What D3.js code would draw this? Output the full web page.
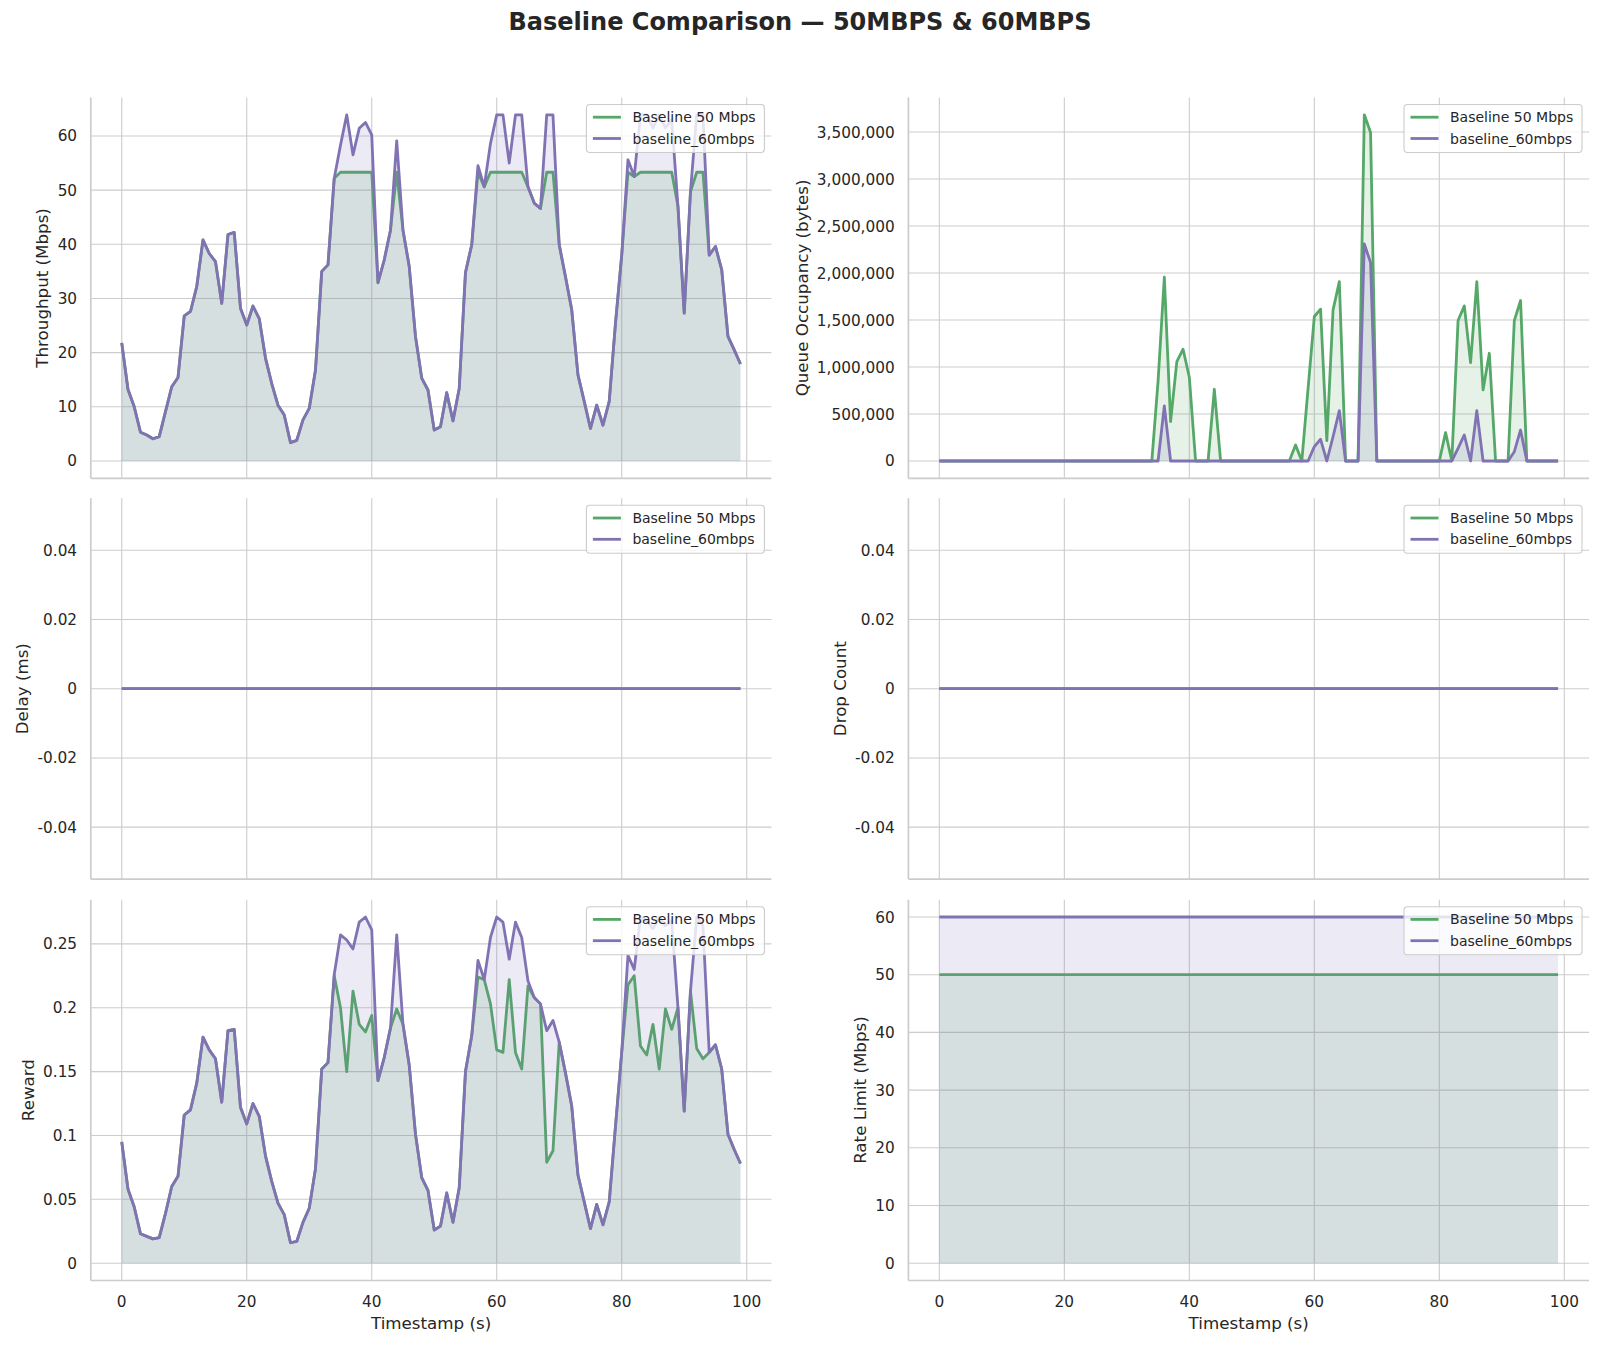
<!DOCTYPE html>
<html><head><meta charset="utf-8">
<script src="https://cdn.jsdelivr.net/npm/d3@7"></script>
<style>
body{margin:0;background:#fff}
svg{display:block}
text{font-family:"DejaVu Sans",sans-serif;fill:#262626}
</style>
</head><body>
<svg id="chart" width="1600" height="1345"></svg>
<script>
// ---------------- DATA ----------------
const timestamps = [0,1,2,3,4,5,6,7,8,9,10,11,12,13,14,15,16,17,18,19,20,21,22,23,24,25,26,27,28,29,
30,31,32,33,34,35,36,37,38,39,40,41,42,43,44,45,46,47,48,49,50,51,52,53,54,55,56,57,58,59,
60,61,62,63,64,65,66,67,68,69,70,71,72,73,74,75,76,77,78,79,80,81,82,83,84,85,86,87,88,89,
90,91,92,93,94,95,96,97,98,99];

const seriesNames = ["Baseline 50 Mbps", "baseline_60mbps"];
const seriesColors = ["#55a868", "#8172b3"];

const throughput50 = [
21.8,13.2,10.0,5.3,4.8,4.1,4.5,9.1,13.7,15.4,
26.8,27.6,32.2,40.8,38.3,36.8,29.1,41.8,42.2,28.2,
25.1,28.6,26.3,19.0,14.3,10.3,8.5,3.4,3.8,7.6,
9.7,16.8,35.0,36.2,52.2,53.3,53.3,53.3,53.3,53.3,
53.3,32.9,37.1,42.6,53.3,42.6,35.9,23.0,15.3,13.1,
5.7,6.3,12.6,7.4,13.4,34.8,39.9,53.3,50.6,53.3,
53.3,53.3,53.3,53.3,53.3,50.6,47.6,46.6,53.3,53.3,
39.9,34.0,27.9,15.9,11.0,6.0,10.3,6.6,11.0,25.4,
38.0,53.3,52.5,53.3,53.3,53.3,53.3,53.3,53.3,47.0,
27.3,49.7,53.3,53.3,38.0,39.6,35.3,23.0,20.5,17.9];
const throughput60 = [
21.8,13.2,10.0,5.3,4.8,4.1,4.5,9.1,13.7,15.4,
26.8,27.6,32.2,40.8,38.3,36.8,29.1,41.8,42.2,28.2,
25.1,28.6,26.3,19.0,14.3,10.3,8.5,3.4,3.8,7.6,
9.7,16.8,35.0,36.2,52.2,58.3,63.9,56.5,61.4,62.5,
60.2,32.9,37.1,42.6,59.1,42.6,35.9,23.0,15.3,13.1,
5.7,6.3,12.6,7.4,13.4,34.8,39.9,54.5,50.6,58.6,
63.9,63.9,55.0,63.9,63.9,50.6,47.6,46.6,63.9,63.9,
39.9,34.0,27.9,15.9,11.0,6.0,10.3,6.6,11.0,25.4,
38.0,55.6,52.5,63.9,63.9,61.5,63.9,61.5,63.0,47.0,
27.3,49.7,63.9,63.9,38.0,39.6,35.3,23.0,20.5,17.9];

const queue50 = [
0,0,0,0,0,0,0,0,0,0,
0,0,0,0,0,0,0,0,0,0,
0,0,0,0,0,0,0,0,0,0,
0,0,0,0,0,850000,1955000,420000,1057000,1189000,
891000,0,0,0,763000,0,0,0,0,0,
0,0,0,0,0,0,0,170000,0,770000,
1537000,1615000,216000,1608000,1909000,0,0,0,3683000,3495000,
0,0,0,0,0,0,0,0,0,0,
0,302000,0,1494000,1650000,1047000,1909000,756000,1146000,0,
0,0,1494000,1707000,0,0,0,0,0,0];
const queue60 = [
0,0,0,0,0,0,0,0,0,0,
0,0,0,0,0,0,0,0,0,0,
0,0,0,0,0,0,0,0,0,0,
0,0,0,0,0,0,585000,0,0,0,
0,0,0,0,0,0,0,0,0,0,
0,0,0,0,0,0,0,0,0,0,
153000,231000,0,260000,536000,0,0,0,2310000,2110000,
0,0,0,0,0,0,0,0,0,0,
0,0,0,135000,277000,0,536000,0,0,0,
0,0,99000,330000,0,0,0,0,0,0];

const delay50 = [
0,0,0,0,0,0,0,0,0,0, 0,0,0,0,0,0,0,0,0,0, 0,0,0,0,0,0,0,0,0,0, 0,0,0,0,0,0,0,0,0,0, 0,0,0,0,0,0,0,0,0,0,
0,0,0,0,0,0,0,0,0,0, 0,0,0,0,0,0,0,0,0,0, 0,0,0,0,0,0,0,0,0,0, 0,0,0,0,0,0,0,0,0,0, 0,0,0,0,0,0,0,0,0,0];
const delay60 = [
0,0,0,0,0,0,0,0,0,0, 0,0,0,0,0,0,0,0,0,0, 0,0,0,0,0,0,0,0,0,0, 0,0,0,0,0,0,0,0,0,0, 0,0,0,0,0,0,0,0,0,0,
0,0,0,0,0,0,0,0,0,0, 0,0,0,0,0,0,0,0,0,0, 0,0,0,0,0,0,0,0,0,0, 0,0,0,0,0,0,0,0,0,0, 0,0,0,0,0,0,0,0,0,0];
const drops50 = [
0,0,0,0,0,0,0,0,0,0, 0,0,0,0,0,0,0,0,0,0, 0,0,0,0,0,0,0,0,0,0, 0,0,0,0,0,0,0,0,0,0, 0,0,0,0,0,0,0,0,0,0,
0,0,0,0,0,0,0,0,0,0, 0,0,0,0,0,0,0,0,0,0, 0,0,0,0,0,0,0,0,0,0, 0,0,0,0,0,0,0,0,0,0, 0,0,0,0,0,0,0,0,0,0];
const drops60 = [
0,0,0,0,0,0,0,0,0,0, 0,0,0,0,0,0,0,0,0,0, 0,0,0,0,0,0,0,0,0,0, 0,0,0,0,0,0,0,0,0,0, 0,0,0,0,0,0,0,0,0,0,
0,0,0,0,0,0,0,0,0,0, 0,0,0,0,0,0,0,0,0,0, 0,0,0,0,0,0,0,0,0,0, 0,0,0,0,0,0,0,0,0,0, 0,0,0,0,0,0,0,0,0,0];

const reward50 = [
0.095,0.058,0.044,0.023,0.021,0.019,0.020,0.039,0.060,0.068,
0.116,0.120,0.141,0.177,0.167,0.160,0.126,0.182,0.183,0.122,
0.109,0.125,0.115,0.084,0.064,0.047,0.038,0.016,0.017,0.032,
0.043,0.074,0.152,0.157,0.225,0.200,0.150,0.213,0.187,0.181,
0.194,0.143,0.161,0.184,0.199,0.187,0.155,0.101,0.067,0.057,
0.026,0.029,0.055,0.032,0.059,0.150,0.178,0.224,0.222,0.203,
0.167,0.165,0.222,0.165,0.152,0.217,0.208,0.203,0.079,0.088,
0.173,0.149,0.123,0.069,0.048,0.027,0.046,0.030,0.048,0.107,
0.165,0.218,0.225,0.170,0.163,0.187,0.152,0.199,0.183,0.200,
0.119,0.213,0.168,0.160,0.165,0.171,0.152,0.101,0.089,0.078];
const reward60 = [
0.095,0.058,0.044,0.023,0.021,0.019,0.020,0.039,0.060,0.068,
0.116,0.120,0.141,0.177,0.167,0.160,0.126,0.182,0.183,0.122,
0.109,0.125,0.115,0.084,0.064,0.047,0.038,0.016,0.017,0.032,
0.043,0.074,0.152,0.157,0.226,0.257,0.253,0.246,0.267,0.271,
0.261,0.143,0.161,0.184,0.257,0.187,0.155,0.101,0.067,0.057,
0.026,0.029,0.055,0.032,0.059,0.150,0.178,0.237,0.222,0.255,
0.271,0.267,0.238,0.267,0.255,0.221,0.208,0.203,0.182,0.190,
0.173,0.149,0.123,0.069,0.048,0.027,0.046,0.030,0.048,0.107,
0.165,0.241,0.230,0.271,0.268,0.262,0.271,0.264,0.268,0.200,
0.119,0.213,0.271,0.264,0.165,0.171,0.152,0.101,0.089,0.078];

const rate50 = [
50,50,50,50,50,50,50,50,50,50, 50,50,50,50,50,50,50,50,50,50, 50,50,50,50,50,50,50,50,50,50, 50,50,50,50,50,50,50,50,50,50, 50,50,50,50,50,50,50,50,50,50,
50,50,50,50,50,50,50,50,50,50, 50,50,50,50,50,50,50,50,50,50, 50,50,50,50,50,50,50,50,50,50, 50,50,50,50,50,50,50,50,50,50, 50,50,50,50,50,50,50,50,50,50];
const rate60 = [
60,60,60,60,60,60,60,60,60,60, 60,60,60,60,60,60,60,60,60,60, 60,60,60,60,60,60,60,60,60,60, 60,60,60,60,60,60,60,60,60,60, 60,60,60,60,60,60,60,60,60,60,
60,60,60,60,60,60,60,60,60,60, 60,60,60,60,60,60,60,60,60,60, 60,60,60,60,60,60,60,60,60,60, 60,60,60,60,60,60,60,60,60,60, 60,60,60,60,60,60,60,60,60,60];

const xTicks = [0,20,40,60,80,100];
const throughputTicks = [0,10,20,30,40,50,60];
const queueTicks = [0,500000,1000000,1500000,2000000,2500000,3000000,3500000];
const delayTicks = [-0.04,-0.02,0,0.02,0.04];
const delayTickLabels = ["-0.04","-0.02","0","0.02","0.04"];
const rewardTicks = [0,0.05,0.1,0.15,0.2,0.25];
const rewardTickLabels = ["0","0.05","0.1","0.15","0.2","0.25"];
const rateTicks = [0,10,20,30,40,50,60];

const titleText = "Baseline Comparison \u2014 50MBPS & 60MBPS";
const xLabelText = "Timestamp (s)";

// ---------------- PANELS ----------------
const panels = [
  {row:0,col:0,label:"Throughput (Mbps)",series:[throughput50,throughput60],ticks:throughputTicks,tickLabels:throughputTicks.map(String),fill:true},
  {row:0,col:1,label:"Queue Occupancy (bytes)",series:[queue50,queue60],ticks:queueTicks,tickLabels:queueTicks.map(d3.format(",")),fill:true},
  {row:1,col:0,label:"Delay (ms)",series:[delay50,delay60],ticks:delayTicks,tickLabels:delayTickLabels,fill:true,fixed:[-0.055,0.055]},
  {row:1,col:1,label:"Drop Count",series:[drops50,drops60],ticks:delayTicks,tickLabels:delayTickLabels,fill:true,fixed:[-0.055,0.055]},
  {row:2,col:0,label:"Reward",series:[reward50,reward60],ticks:rewardTicks,tickLabels:rewardTickLabels,fill:true},
  {row:2,col:1,label:"Rate Limit (Mbps)",series:[rate50,rate60],ticks:rateTicks,tickLabels:rateTicks.map(String),fill:true}
];

const colX = [[90.8,771.4],[908.4,1589]];
const rowY = [[97.5,478.3],[498.3,879.1],[899.7,1280.5]];

const svg = d3.select("#chart");
svg.append("rect").attr("width",1600).attr("height",1345).attr("fill","#fff");

svg.append("text").attr("x",800).attr("y",30).attr("text-anchor","middle")
  .style("font-size","24px").style("font-weight","bold").text(titleText);

const GRID = "#cccccc";
const tickFont = 15.3, labelFont = 16.7, legendFont = 14;

panels.forEach(p => {
  const [x0,x1] = colX[p.col];
  const [y0,y1] = rowY[p.row];
  const xs = d3.scaleLinear().domain([-4.95,103.95]).range([x0,x1]);
  let dom;
  if (p.fixed) dom = p.fixed;
  else {
    const mx = d3.max(p.series.flat());
    const mn = Math.min(0, d3.min(p.series.flat()));
    const m = (mx - mn) * 0.05;
    dom = [mn - m, mx + m];
  }
  const ys = d3.scaleLinear().domain(dom).range([y1,y0]);
  const g = svg.append("g");

  // grid
  g.selectAll(".hg").data(p.ticks).join("line")
    .attr("x1",x0).attr("x2",x1).attr("y1",d=>ys(d)).attr("y2",d=>ys(d))
    .attr("stroke",GRID).attr("stroke-width",1.1);
  g.selectAll(".vg").data(xTicks).join("line")
    .attr("x1",d=>xs(d)).attr("x2",d=>xs(d)).attr("y1",y0).attr("y2",y1)
    .attr("stroke",GRID).attr("stroke-width",1.1);

  // series
  p.series.forEach((vals,i) => {
    const pts = timestamps.map((t,k)=>[t,vals[k]]);
    if (p.fill) {
      g.append("path").datum(pts)
        .attr("d", d3.area().x(d=>xs(d[0])).y0(ys(0)).y1(d=>ys(d[1])))
        .attr("fill", seriesColors[i]).attr("fill-opacity",0.15);
    }
    g.append("path").datum(pts)
      .attr("d", d3.line().x(d=>xs(d[0])).y(d=>ys(d[1])))
      .attr("fill","none").attr("stroke",seriesColors[i]).attr("stroke-width",2.8)
      .attr("stroke-linejoin","round").attr("stroke-linecap","butt");
  });

  // spines
  g.append("line").attr("x1",x0).attr("x2",x0).attr("y1",y0).attr("y2",y1)
    .attr("stroke",GRID).attr("stroke-width",1.7);
  g.append("line").attr("x1",x0).attr("x2",x1).attr("y1",y1).attr("y2",y1)
    .attr("stroke",GRID).attr("stroke-width",1.7);

  // y tick labels
  const yt = g.append("g");
  yt.selectAll("text").data(p.ticks).join("text")
    .attr("x", x0 - 13.7).attr("y", d=>ys(d)).attr("dy","0.36em")
    .attr("text-anchor","end").style("font-size",tickFont+"px")
    .text((d,i)=>p.tickLabels[i]);
  const bb = yt.node().getBBox();
  const lblRight = bb.x - 5.6;
  const cx = lblRight - labelFont*1.164/2;
  g.append("text")
    .attr("transform",`translate(${cx},${(y0+y1)/2}) rotate(-90)`)
    .attr("text-anchor","middle").attr("dy","0.36em")
    .style("font-size",labelFont+"px").text(p.label);

  // x tick labels on bottom row
  if (p.row === 2) {
    g.selectAll(".xt").data(xTicks).join("text")
      .attr("x",d=>xs(d)).attr("y",1307.3).attr("text-anchor","middle")
      .style("font-size",tickFont+"px").text(d=>d);
    g.append("text").attr("x",(x0+x1)/2).attr("y",1329)
      .attr("text-anchor","middle").style("font-size",labelFont+"px").text(xLabelText);
  }

  // legend
  const lw = 178, lh = 48;
  const lx = x1 - 7 - lw, ly = y0 + 7;
  const lg = g.append("g");
  lg.append("rect").attr("x",lx).attr("y",ly).attr("width",lw).attr("height",lh)
    .attr("rx",3.5).attr("fill","#fff").attr("fill-opacity",0.8)
    .attr("stroke",GRID).attr("stroke-width",1.1);
  seriesNames.forEach((nm,i) => {
    const cy = ly + 12.7 + i*21.3;
    lg.append("line").attr("x1",lx+6.5).attr("x2",lx+34.5).attr("y1",cy).attr("y2",cy)
      .attr("stroke",seriesColors[i]).attr("stroke-width",2.8);
    lg.append("text").attr("x",lx+46).attr("y",cy).attr("dy","0.36em")
      .style("font-size",legendFont+"px").text(nm);
  });
});
</script>
</body></html>
